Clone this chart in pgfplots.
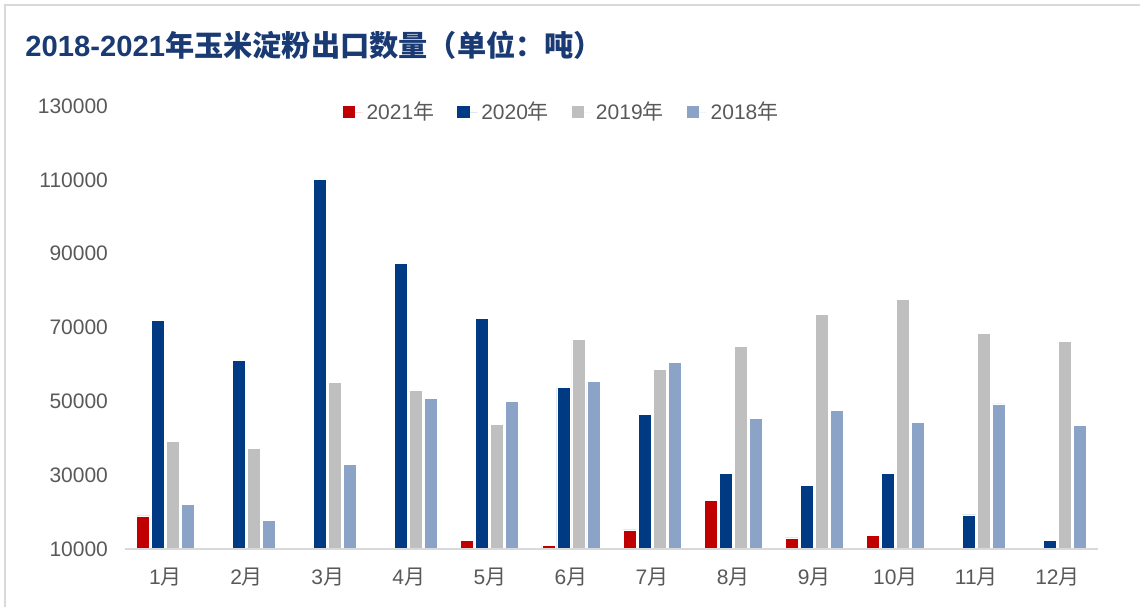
\documentclass[border=0pt]{standalone}
\usepackage{pgfplots}
\pgfplotsset{compat=1.18}
\usepackage{fontspec}
\setmainfont{Liberation Sans}
\newfontfamily\cjk{Noto Sans CJK SC}
\definecolor{c21}{HTML}{C00000}
\definecolor{c20}{HTML}{003A82}
\definecolor{c19}{HTML}{BFBFBF}
\definecolor{c18}{HTML}{8BA3C7}
\definecolor{ttl}{HTML}{1A3A74}
\definecolor{lbl}{HTML}{595959}
\definecolor{frm}{HTML}{D9D9D9}
\begin{document}
\begin{tikzpicture}
\useasboundingbox (0pt,0pt) rectangle (570pt,303.5pt);
\draw[frm, line width=1pt] (2.5pt,0pt) -- (2.5pt,301pt) -- (570pt,301pt);
\node[anchor=west, text=ttl, font=\fontsize{14.6pt}{16pt}\selectfont, inner sep=0pt] at (12.5pt,281pt)
  {\textbf{2018-2021}{\cjk\bfseries 年玉米淀粉出口数量（单位：吨）}};
\begin{axis}[
  at={(62.5pt,29pt)}, anchor=south west,
  scale only axis, width=486.5pt, height=221.5pt,
  ybar=1pt, bar width=6.5pt,
  xmin=-0.5, xmax=11.5, ymin=10000, ymax=130000,
  xtick={0,...,11},
  xticklabels={1{\cjk 月},2{\cjk 月},3{\cjk 月},4{\cjk 月},5{\cjk 月},6{\cjk 月},7{\cjk 月},8{\cjk 月},9{\cjk 月},10{\cjk 月},11{\cjk 月},12{\cjk 月}},
  ytick={10000,30000,...,130000},
  yticklabels={10000,30000,50000,70000,90000,110000,130000},
  scaled y ticks=false,
  axis on top,
  axis x line*=bottom, axis y line*=left,
  x axis line style={draw=frm, line width=1pt, -},
  y axis line style={draw=none},
  major tick length=0pt,
  tick label style={text=lbl, font=\fontsize{10.5pt}{12pt}\selectfont},
  yticklabel style={xshift=-5pt},
  xticklabel style={yshift=-6pt},
  clip=false,
  legend columns=4,
  legend style={draw=none, fill=none, at={(0.217,0.986)}, anchor=west,
    font=\fontsize{10.5pt}{12pt}\selectfont, text=lbl,
    /tikz/every even column/.append style={column sep=9.5pt}},
  legend image code/.code={\fill[#1,draw=none] (0pt,-3.1pt) rectangle (6.2pt,3.1pt); \path[draw=none] (0pt,0pt) -- (10pt,0pt);},
  every axis plot/.append style={draw=white, line width=0.4pt},
]
\addplot[fill=c21] coordinates {(0,18960) (4,12360) (5,10900) (6,15160) (7,23220) (8,12990) (9,13720)};
\addlegendentry{2021{\cjk 年}}
\addplot[fill=c20] coordinates {(0,71900) (1,61050) (2,110190) (3,87380) (4,72450) (5,53720) (6,46380) (7,30450) (8,27190) (9,30450) (10,19230) (11,12360)};
\addlegendentry{2020{\cjk 年}}
\addplot[fill=c19] coordinates {(0,39130) (1,37340) (2,55150) (3,52900) (4,43860) (5,66750) (6,58680) (7,64850) (8,73540) (9,77600) (10,68460) (11,66290)};
\addlegendentry{2019{\cjk 年}}
\addplot[fill=c18] coordinates {(0,22140) (1,17790) (2,33000) (3,50730) (4,50000) (5,55400) (6,60500) (7,45300) (8,47470) (9,44210) (10,49290) (11,43480)};
\addlegendentry{2018{\cjk 年}}
\end{axis}
\end{tikzpicture}
\end{document}
